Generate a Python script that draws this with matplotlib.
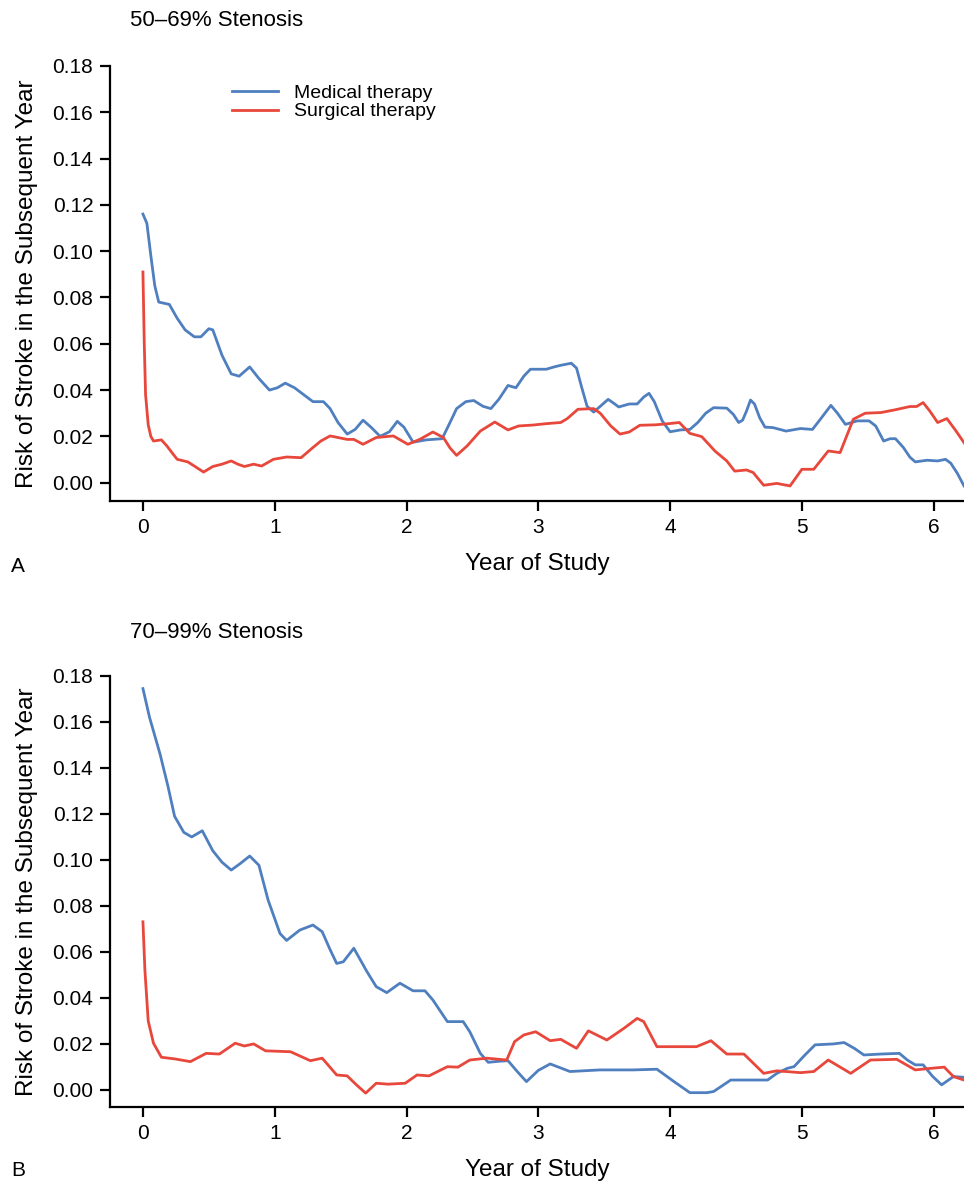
import matplotlib
matplotlib.use("Agg")
import matplotlib.pyplot as plt

plt.rcParams['font.family'] = ['Liberation Sans', 'DejaVu Sans']

# panel A: 50-69% stenosis
a_med_year = [0.00, 0.03, 0.06, 0.09, 0.12, 0.20, 0.26, 0.32, 0.39, 0.44, 0.50, 0.53, 0.60, 0.67, 0.73,
              0.81, 0.88, 0.96, 1.02, 1.08, 1.15, 1.22, 1.29, 1.37, 1.42, 1.48, 1.55, 1.61, 1.67, 1.73,
              1.80, 1.87, 1.93, 1.98, 2.05, 2.15, 2.27, 2.33, 2.38, 2.45, 2.51, 2.58, 2.64, 2.70, 2.77,
              2.83, 2.89, 2.94, 3.06, 3.12, 3.17, 3.25, 3.29, 3.33, 3.37, 3.42, 3.47, 3.53, 3.58, 3.61,
              3.69, 3.75, 3.80, 3.84, 3.88, 3.94, 4.00, 4.08, 4.15, 4.21, 4.27, 4.33, 4.43, 4.48, 4.52,
              4.55, 4.58, 4.61, 4.64, 4.68, 4.72, 4.78, 4.88, 4.99, 5.08, 5.14, 5.22, 5.27, 5.33, 5.42,
              5.51, 5.56, 5.62, 5.67, 5.71, 5.77, 5.82, 5.86, 5.95, 6.03, 6.09, 6.13, 6.18, 6.23]
a_med_risk = [0.116, 0.112, 0.098, 0.085, 0.078, 0.077, 0.071, 0.066, 0.063, 0.063, 0.0665, 0.066, 0.055,
              0.047, 0.046, 0.050, 0.045, 0.040, 0.041, 0.043, 0.041, 0.038, 0.035, 0.035, 0.032, 0.026,
              0.021, 0.023, 0.027, 0.024, 0.020, 0.022, 0.0265, 0.024, 0.0175, 0.0185, 0.019, 0.026,
              0.032, 0.035, 0.0355, 0.033, 0.032, 0.036, 0.042, 0.041, 0.046, 0.049, 0.049, 0.050,
              0.0507, 0.0516, 0.0495, 0.041, 0.033, 0.0305, 0.033, 0.036, 0.034, 0.0327, 0.034, 0.034,
              0.037, 0.0386, 0.035, 0.0267, 0.022, 0.0228, 0.023, 0.026, 0.030, 0.0324, 0.0322, 0.0295,
              0.026, 0.027, 0.031, 0.0357, 0.034, 0.028, 0.024, 0.0238, 0.0223, 0.0234, 0.023, 0.0274,
              0.0334, 0.030, 0.0252, 0.0267, 0.0267, 0.0245, 0.018, 0.019, 0.019, 0.0152, 0.011, 0.009,
              0.0097, 0.0094, 0.0101, 0.0084, 0.004, -0.0014]

a_sur_year = [0.00, 0.01, 0.02, 0.04, 0.06, 0.08, 0.14, 0.18, 0.22, 0.26, 0.34, 0.39, 0.46, 0.53, 0.60,
              0.67, 0.72, 0.77, 0.84, 0.90, 0.99, 1.09, 1.20, 1.29, 1.35, 1.42, 1.55, 1.60, 1.67, 1.77,
              1.90, 2.01, 2.10, 2.20, 2.28, 2.33, 2.38, 2.46, 2.56, 2.67, 2.77, 2.85, 2.96, 3.06, 3.17,
              3.22, 3.30, 3.42, 3.47, 3.55, 3.62, 3.69, 3.77, 3.89, 3.99, 4.07, 4.15, 4.24, 4.34, 4.43,
              4.49, 4.58, 4.63, 4.71, 4.81, 4.91, 5.00, 5.09, 5.20, 5.29, 5.39, 5.48, 5.60, 5.70, 5.82,
              5.87, 5.92, 5.97, 6.03, 6.10, 6.17, 6.23]
a_sur_risk = [0.091, 0.060, 0.038, 0.025, 0.020, 0.018, 0.0185, 0.016, 0.013, 0.0101, 0.009, 0.0072,
              0.0046, 0.007, 0.008, 0.0094, 0.008, 0.007, 0.008, 0.0072, 0.0101, 0.0111, 0.0108, 0.0152,
              0.018, 0.0202, 0.0187, 0.0187, 0.0166, 0.0195, 0.0202, 0.0166, 0.0187, 0.0219, 0.0195,
              0.015, 0.0118, 0.0159, 0.0223, 0.0262, 0.0228, 0.0245, 0.0249, 0.0255, 0.026, 0.0277,
              0.0317, 0.032, 0.030, 0.0245, 0.021, 0.0219, 0.0248, 0.025, 0.0255, 0.026, 0.0213, 0.0199,
              0.0137, 0.0094, 0.005, 0.0055, 0.0044, -0.0011, -0.0003, -0.0014, 0.0058, 0.0058, 0.0137,
              0.013, 0.0274, 0.030, 0.0303, 0.0314, 0.0329, 0.0329, 0.0346, 0.031, 0.026, 0.0277, 0.0223,
              0.0173]

# panel B: 70-99% stenosis
b_med_year = [0.00, 0.05, 0.10, 0.13, 0.19, 0.24, 0.31, 0.37, 0.45, 0.53, 0.60, 0.67, 0.74, 0.81, 0.88,
              0.95, 1.04, 1.09, 1.19, 1.29, 1.36, 1.42, 1.47, 1.52, 1.60, 1.70, 1.77, 1.85, 1.95, 2.05,
              2.14, 2.20, 2.31, 2.43, 2.48, 2.56, 2.62, 2.71, 2.77, 2.84, 2.91, 3.00, 3.09, 3.24, 3.47,
              3.72, 3.90, 4.03, 4.15, 4.28, 4.33, 4.46, 4.61, 4.74, 4.81, 4.89, 4.94, 5.02, 5.10, 5.24,
              5.32, 5.40, 5.47, 5.60, 5.74, 5.80, 5.86, 5.92, 5.99, 6.06, 6.15, 6.23]
b_med_risk = [0.1745, 0.162, 0.152, 0.146, 0.132, 0.119, 0.112, 0.110, 0.1127, 0.104, 0.099, 0.0956,
              0.0985, 0.1017, 0.0977, 0.0825, 0.068, 0.065, 0.0695, 0.0717, 0.0688, 0.061, 0.055, 0.0557,
              0.0616, 0.0514, 0.0449, 0.0423, 0.0464, 0.0431, 0.0431, 0.0391, 0.0297, 0.0297, 0.0253,
              0.0159, 0.012, 0.0125, 0.0127, 0.008, 0.0036, 0.0085, 0.0113, 0.008, 0.0087, 0.0087, 0.009,
              0.0036, -0.0012, -0.0012, -0.0007, 0.0043, 0.0043, 0.0043, 0.0072, 0.0094, 0.0101, 0.015,
              0.0196, 0.020, 0.0206, 0.018, 0.0152, 0.0156, 0.0159, 0.013, 0.0109, 0.0109, 0.006, 0.0022,
              0.0058, 0.0055]

b_sur_year = [0.00, 0.015, 0.04, 0.08, 0.14, 0.24, 0.36, 0.48, 0.58, 0.70, 0.77, 0.84, 0.93, 1.12, 1.27,
              1.36, 1.47, 1.55, 1.62, 1.69, 1.77, 1.86, 1.99, 2.08, 2.17, 2.31, 2.39, 2.48, 2.61, 2.76,
              2.82, 2.89, 2.98, 3.09, 3.17, 3.29, 3.38, 3.52, 3.65, 3.75, 3.80, 3.90, 4.03, 4.20, 4.31,
              4.43, 4.56, 4.71, 4.81, 4.99, 5.09, 5.20, 5.37, 5.52, 5.72, 5.86, 5.98, 6.08, 6.15, 6.23]
b_sur_risk = [0.0731, 0.052, 0.030, 0.0203, 0.0142, 0.0135, 0.0123, 0.0159, 0.0156, 0.0203, 0.0191,
              0.020, 0.017, 0.0166, 0.0127, 0.0138, 0.0065, 0.0061, 0.0022, -0.0014, 0.0029, 0.0025,
              0.0029, 0.0065, 0.0061, 0.0101, 0.0099, 0.013, 0.0138, 0.013, 0.021, 0.0239, 0.0253,
              0.0214, 0.022, 0.0181, 0.0257, 0.0217, 0.0268, 0.0311, 0.0297, 0.0188, 0.0188, 0.0188,
              0.0214, 0.0156, 0.0156, 0.0072, 0.0083, 0.0075, 0.008, 0.013, 0.0072, 0.013, 0.0133,
              0.0087, 0.0094, 0.0099, 0.0058, 0.0043]

x_ticks = [0, 1, 2, 3, 4, 5, 6]
y_ticks = [0.00, 0.02, 0.04, 0.06, 0.08, 0.10, 0.12, 0.14, 0.16, 0.18]

blue = '#4f7fbf'
red = '#e8473b'

fig = plt.figure(figsize=(9.64, 11.83), dpi=100)
ax_a = fig.add_axes([0.1141, 0.5765, 0.8859, 0.3678])
ax_b = fig.add_axes([0.1141, 0.0643, 0.8859, 0.3643])


def style_axes(ax, ymin):
    ax.set_xlim(-0.25, 6.23)
    ax.set_ylim(ymin, 0.18)
    ax.set_xticks(x_ticks)
    ax.set_yticks(y_ticks)
    ax.set_yticklabels(['%.2f' % t for t in y_ticks])
    ax.spines['top'].set_visible(False)
    ax.spines['right'].set_visible(False)
    ax.spines['left'].set_linewidth(1.6)
    ax.spines['bottom'].set_linewidth(1.6)
    ax.spines['left'].set_bounds(ymin, 0.18)
    ax.tick_params(direction='out', length=7, width=1.6, labelsize=15, pad=5)
    ax.set_xlabel('Year of Study', fontsize=17.5, labelpad=12)
    ax.set_ylabel('Risk of Stroke in the Subsequent Year', fontsize=17.5)
    ax.yaxis.set_label_coords(-0.084, 0.5)


ax_a.plot(a_med_year, a_med_risk, color=blue, lw=2, solid_joinstyle='round', label='Medical therapy')
ax_a.plot(a_sur_year, a_sur_risk, color=red, lw=2, solid_joinstyle='round', label='Surgical therapy')
style_axes(ax_a, -0.0079)
ax_a.legend(loc='upper left', bbox_to_anchor=(0.122, 0.998), frameon=False, fontsize=14,
            handlelength=2.4, handletextpad=0.8, labelspacing=0.05)

ax_b.plot(b_med_year, b_med_risk, color=blue, lw=2, solid_joinstyle='round')
ax_b.plot(b_sur_year, b_sur_risk, color=red, lw=2, solid_joinstyle='round')
style_axes(ax_b, -0.0074)

fig.text(130 / 964, 1 - 20 / 1183, '50\u201369% Stenosis', fontsize=16, va='center', ha='left')
fig.text(130 / 964, 1 - 632 / 1183, '70\u201399% Stenosis', fontsize=16, va='center', ha='left')
fig.text(11 / 964, 1 - 566 / 1183, 'A', fontsize=15, va='center', ha='left')
fig.text(11 / 964, 1 - 1170 / 1183, 'B', fontsize=15, va='center', ha='left')

fig.savefig('out.png', dpi=100)
